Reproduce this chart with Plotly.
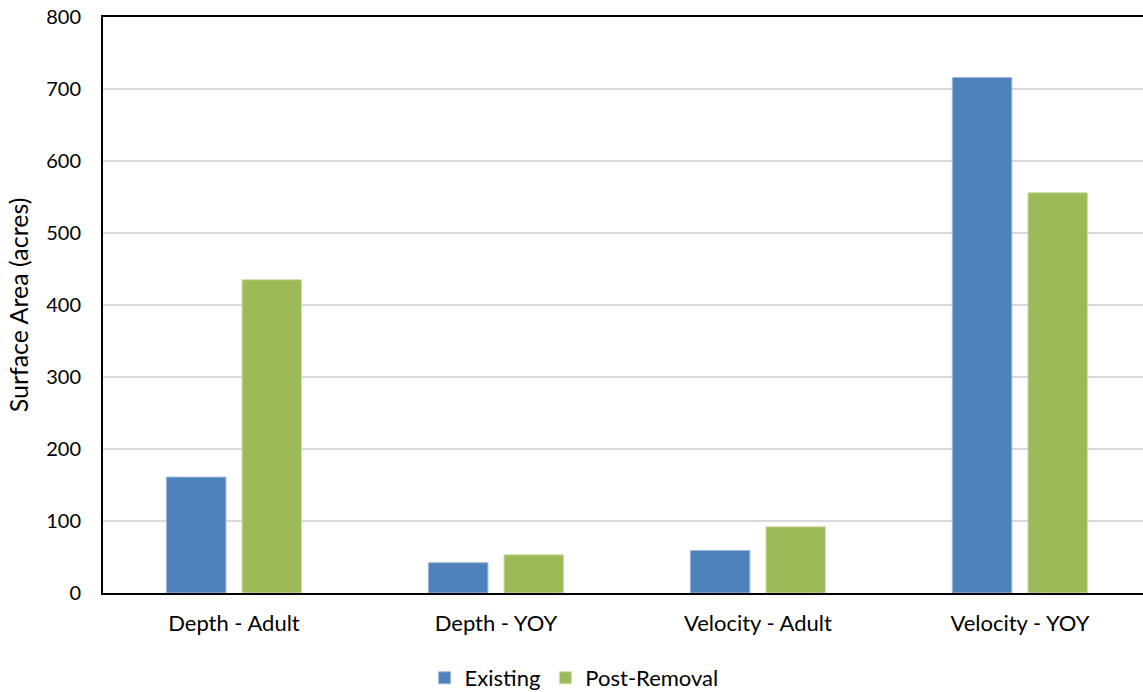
import plotly.graph_objects as go

categories = ["Depth - Adult", "Depth - YOY", "Velocity - Adult", "Velocity - YOY"]
existing = [161, 42, 59, 716]
post_removal = [435, 53, 92, 556]
y_ticks = [0, 100, 200, 300, 400, 500, 600, 700, 800]

font = "Lato, Carlito, Calibri, sans-serif"

fig = go.Figure()
fig.add_trace(go.Bar(
    x=categories, y=existing, name="Existing",
    marker=dict(color="#4F81BD", line=dict(color="#9DB7DD", width=1)),
))
fig.add_trace(go.Bar(
    x=categories, y=post_removal, name="Post-Removal",
    marker=dict(color="#9BBB59", line=dict(color="#CDE0A6", width=1)),
))

fig.update_layout(
    width=1143, height=700,
    margin=dict(l=103, r=0, t=17, b=107),
    paper_bgcolor="white", plot_bgcolor="white",
    barmode="group", bargap=0.423, bargroupgap=0.213,
    font=dict(family=font, size=22, color="black"),
    showlegend=True,
    legend=dict(orientation="h", x=0.453, xanchor="center", y=-0.1476, yanchor="middle",
                font=dict(size=22), itemwidth=30, traceorder="normal"),
    xaxis=dict(
        range=[-0.5, 3.47],
        showline=True, linecolor="black", linewidth=2, mirror=True,
        showgrid=False, ticks="", ticklabelstandoff=10,
        tickfont=dict(size=22),
    ),
    yaxis=dict(
        range=[0, 800], tickvals=y_ticks, showline=True, linecolor="black", linewidth=2,
        showgrid=True, gridcolor="#D9D9D9", gridwidth=1.5, zeroline=False,
        ticks="", ticklabelstandoff=16, tickfont=dict(size=20),
        ticklabeloverflow="allow",
        title=dict(text="Surface Area (acres)", font=dict(size=25), standoff=10),
    ),
)

fig.write_html(
    "out.html",
    config={"displayModeBar": False},
    post_script="document.body.style.margin='0';",
)
